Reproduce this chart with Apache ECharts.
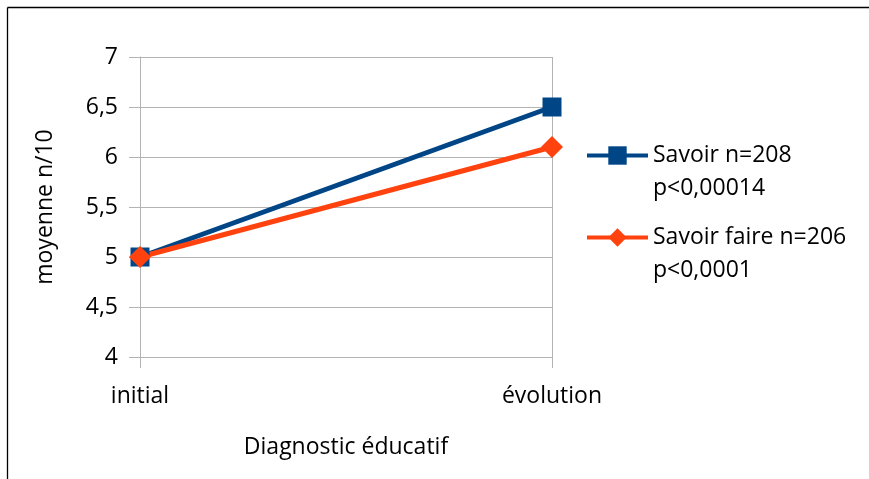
<!DOCTYPE html>
<html>
<head>
<meta charset="utf-8">
<script src="https://cdn.jsdelivr.net/npm/echarts@6/dist/echarts.min.js"></script>
<style>
  html, body { margin: 0; padding: 0; background: #fff; }
  #chart { width: 869px; height: 479px; }
</style>
</head>
<body>
<div id="chart"></div>
<script>
// Mean scores (out of 10) at the initial and follow-up educational diagnosis
const categories = ['initial', 'évolution'];
const savoir = [5, 6.5];
const savoirFaire = [5, 6.1];
const seriesNames = ['Savoir n=208', 'Savoir faire n=206'];
const pValues = ['p<0,00014', 'p<0,0001'];
const yTickValues = [4, 4.5, 5, 5.5, 6, 6.5, 7];
const yTickLabels = ['4', '4,5', '5', '5,5', '6', '6,5', '7'];

const FONT = '"Open Sans", "Noto Sans", sans-serif';
const FONT_SIZE = 23;
const GRID_GRAY = '#b3b3b3';
const BLUE = '#004586';
const ORANGE = '#ff420e';

function tickLabel(v) {
  const i = yTickValues.findIndex(t => Math.abs(t - v) < 1e-9);
  return i >= 0 ? yTickLabels[i] : '';
}

// One legend block per series; a leading empty line keeps the icon
// level with the series name while the p-value sits underneath.
function legendFor(i, top) {
  return {
    data: [seriesNames[i]],
    left: 585,
    top: top,
    orient: 'vertical',
    padding: 0,
    itemGap: 0,
    itemWidth: 61,
    itemHeight: 23,
    selectedMode: false,
    lineStyle: { width: 4 },
    formatter: name => '\n' + name + '\n' + pValues[i],
    textStyle: {
      fontFamily: FONT,
      fontSize: FONT_SIZE,
      color: '#000',
      lineHeight: 33
    }
  };
}

const chart = echarts.init(document.getElementById('chart'), null, { renderer: 'canvas' });

chart.setOption({
  animation: false,
  backgroundColor: '#fff',
  textStyle: { fontFamily: FONT },
  grid: { left: 140, right: 317, top: 57, bottom: 122 },
  legend: [legendFor(0, 106), legendFor(1, 188)],
  graphic: [
    { type: 'line', shape: { x1: 7.5, y1: 7.5, x2: 869, y2: 7.5 }, style: { stroke: '#000', lineWidth: 1.3 }, silent: true },
    { type: 'line', shape: { x1: 7.5, y1: 7.5, x2: 7.5, y2: 479 }, style: { stroke: '#000', lineWidth: 1.3 }, silent: true }
  ],
  xAxis: {
    type: 'category',
    data: categories,
    boundaryGap: false,
    axisLine: { show: true, lineStyle: { color: GRID_GRAY, width: 1 } },
    axisTick: { show: true, length: 11, lineStyle: { color: GRID_GRAY } },
    splitLine: { show: true, lineStyle: { color: GRID_GRAY, width: 1 } },
    axisLabel: { margin: 28, fontFamily: FONT, fontSize: FONT_SIZE, color: '#000' },
    name: 'Diagnostic éducatif',
    nameLocation: 'middle',
    nameGap: 79,
    nameTextStyle: { fontFamily: FONT, fontSize: FONT_SIZE, color: '#000' }
  },
  yAxis: {
    type: 'value',
    min: 4,
    max: 7,
    interval: 0.5,
    axisLine: { show: true, lineStyle: { color: GRID_GRAY, width: 1 } },
    axisTick: { show: true, length: 11, lineStyle: { color: GRID_GRAY } },
    splitLine: { show: true, lineStyle: { color: GRID_GRAY, width: 1 } },
    axisLabel: { margin: 22, fontFamily: FONT, fontSize: FONT_SIZE, color: '#000', formatter: tickLabel },
    name: 'moyenne n/10',
    nameLocation: 'middle',
    nameRotate: 90,
    nameGap: 83,
    nameTextStyle: { fontFamily: FONT, fontSize: FONT_SIZE, color: '#000' }
  },
  series: [
    {
      name: seriesNames[0],
      type: 'line',
      data: savoir,
      symbol: 'rect',
      symbolSize: 19,
      showSymbol: true,
      lineStyle: { color: BLUE, width: 5 },
      itemStyle: { color: BLUE }
    },
    {
      name: seriesNames[1],
      type: 'line',
      data: savoirFaire,
      symbol: 'diamond',
      symbolSize: 22,
      showSymbol: true,
      lineStyle: { color: ORANGE, width: 5 },
      itemStyle: { color: ORANGE }
    }
  ]
});
</script>
</body>
</html>
